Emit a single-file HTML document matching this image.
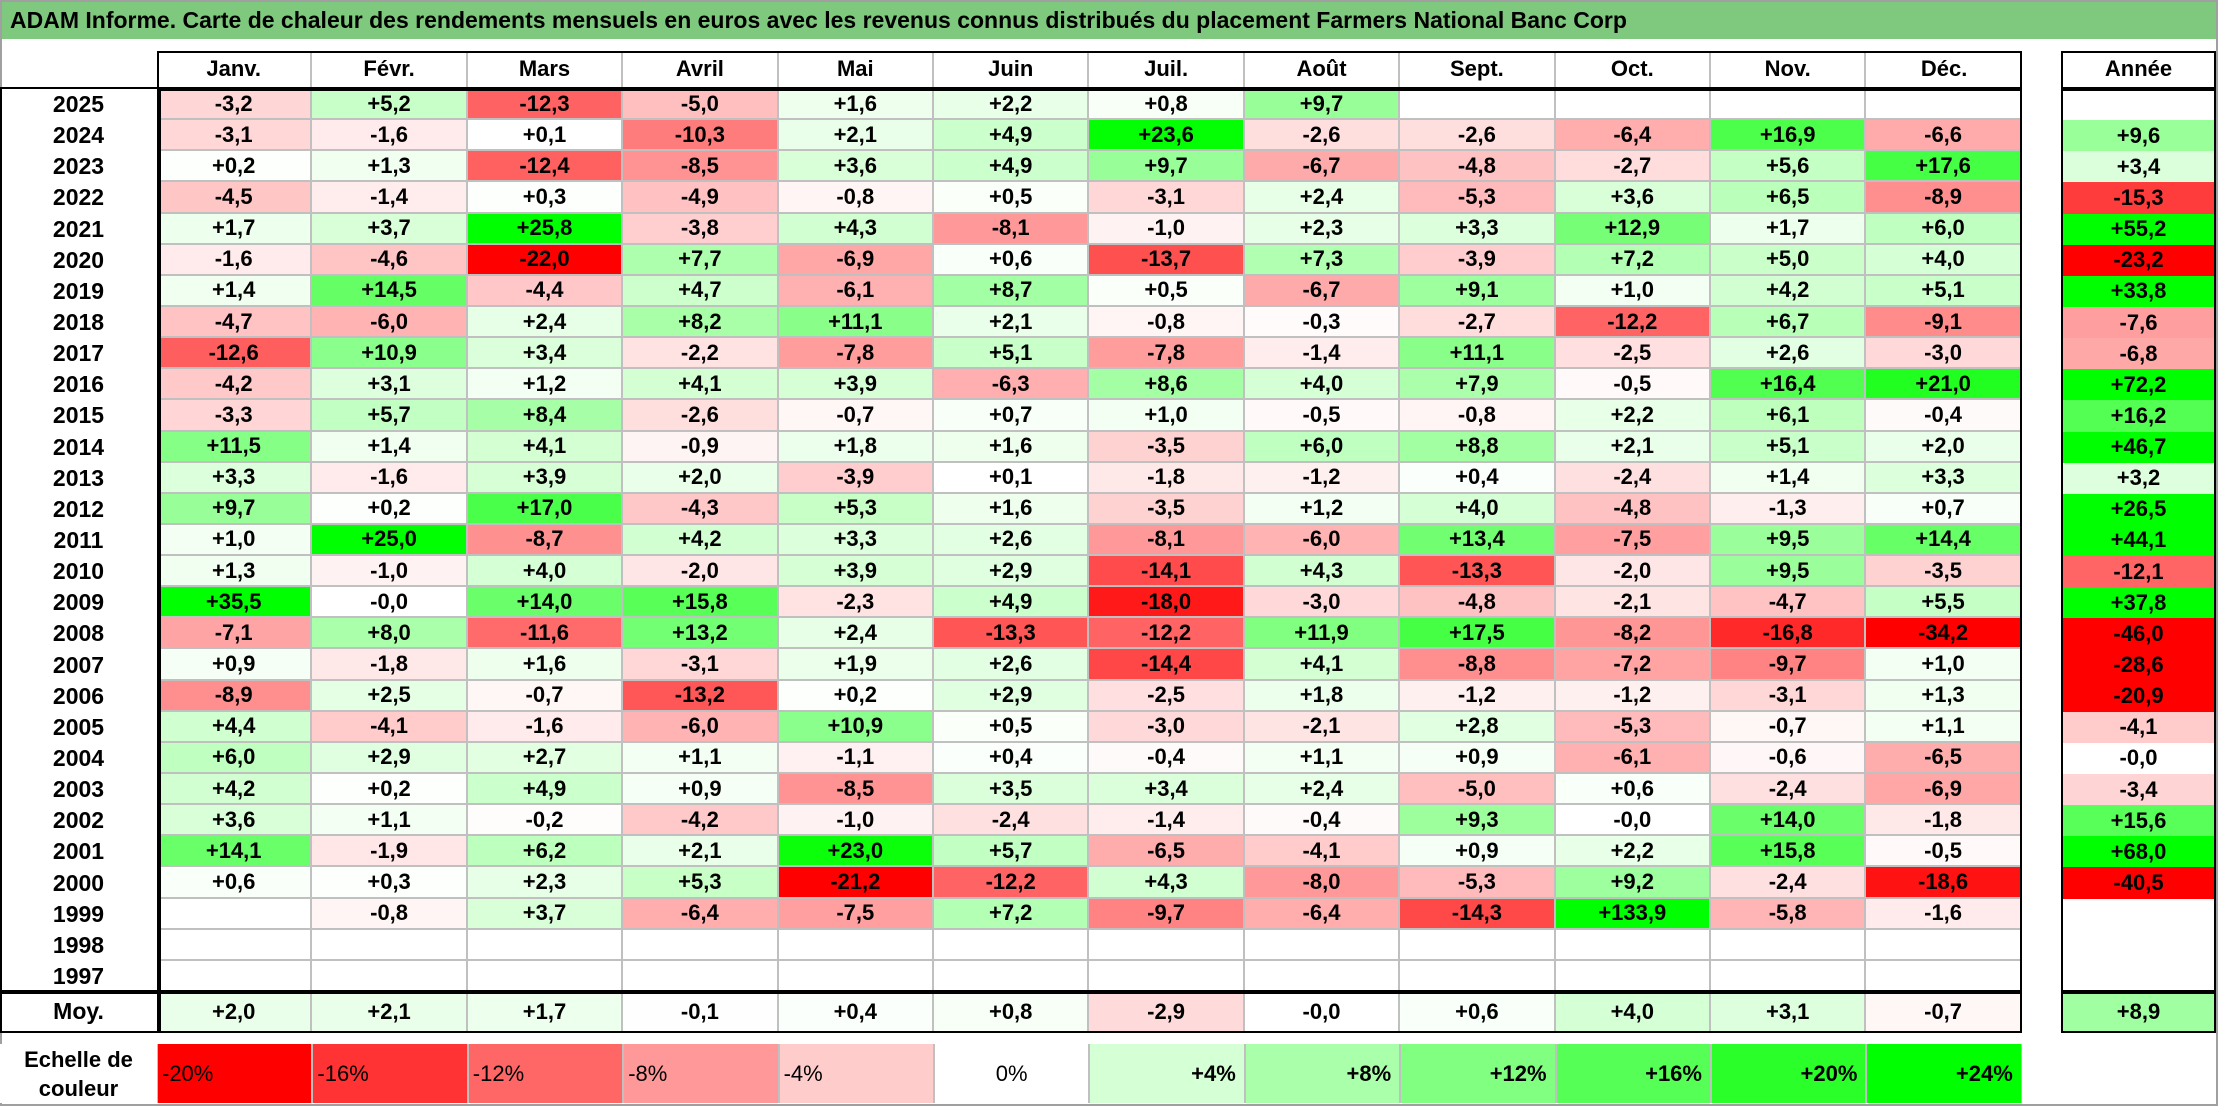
<!DOCTYPE html>
<html><head><meta charset="utf-8"><style>
body{margin:0;width:2218px;height:1106px;background:#fff;position:relative;overflow:hidden;font-family:"Liberation Sans",Arial,sans-serif;}
.a{position:absolute;box-sizing:border-box;}
.c{display:flex;align-items:center;justify-content:center;font-weight:bold;font-size:22px;color:#000;border-right:2px solid #c0c0c0;border-bottom:2px solid #c0c0c0;}
.bx{position:absolute;box-sizing:border-box;border:2px solid #000;pointer-events:none;}
</style></head><body>
<div class="a" style="left:0;top:0;width:2218px;height:1106px;border:2px solid #a0a0a0;"></div>
<div class="a" style="left:2px;top:2px;width:2214px;height:37px;background:#7fc97f;font-weight:bold;font-size:23px;line-height:37px;padding-left:8px;">ADAM Informe. Carte de chaleur des rendements mensuels en euros avec les revenus connus distribués du placement Farmers National Banc Corp</div>
<div id="g"></div>
<script>
const months=["Janv.","Févr.","Mars","Avril","Mai","Juin","Juil.","Août","Sept.","Oct.","Nov.","Déc."];
const years=[2025,2024,2023,2022,2021,2020,2019,2018,2017,2016,2015,2014,2013,2012,2011,2010,2009,2008,2007,2006,2005,2004,2003,2002,2001,2000,1999,1998,1997];
const N=null;
const monthly=[
[-3.2,5.2,-12.3,-5.0,1.6,2.2,0.8,9.7,N,N,N,N],
[-3.1,-1.6,0.1,-10.3,2.1,4.9,23.6,-2.6,-2.6,-6.4,16.9,-6.6],
[0.2,1.3,-12.4,-8.5,3.6,4.9,9.7,-6.7,-4.8,-2.7,5.6,17.6],
[-4.5,-1.4,0.3,-4.9,-0.8,0.5,-3.1,2.4,-5.3,3.6,6.5,-8.9],
[1.7,3.7,25.8,-3.8,4.3,-8.1,-1.0,2.3,3.3,12.9,1.7,6.0],
[-1.6,-4.6,-22.0,7.7,-6.9,0.6,-13.7,7.3,-3.9,7.2,5.0,4.0],
[1.4,14.5,-4.4,4.7,-6.1,8.7,0.5,-6.7,9.1,1.0,4.2,5.1],
[-4.7,-6.0,2.4,8.2,11.1,2.1,-0.8,-0.3,-2.7,-12.2,6.7,-9.1],
[-12.6,10.9,3.4,-2.2,-7.8,5.1,-7.8,-1.4,11.1,-2.5,2.6,-3.0],
[-4.2,3.1,1.2,4.1,3.9,-6.3,8.6,4.0,7.9,-0.5,16.4,21.0],
[-3.3,5.7,8.4,-2.6,-0.7,0.7,1.0,-0.5,-0.8,2.2,6.1,-0.4],
[11.5,1.4,4.1,-0.9,1.8,1.6,-3.5,6.0,8.8,2.1,5.1,2.0],
[3.3,-1.6,3.9,2.0,-3.9,0.1,-1.8,-1.2,0.4,-2.4,1.4,3.3],
[9.7,0.2,17.0,-4.3,5.3,1.6,-3.5,1.2,4.0,-4.8,-1.3,0.7],
[1.0,25.0,-8.7,4.2,3.3,2.6,-8.1,-6.0,13.4,-7.5,9.5,14.4],
[1.3,-1.0,4.0,-2.0,3.9,2.9,-14.1,4.3,-13.3,-2.0,9.5,-3.5],
[35.5,-0,14.0,15.8,-2.3,4.9,-18.0,-3.0,-4.8,-2.1,-4.7,5.5],
[-7.1,8.0,-11.6,13.2,2.4,-13.3,-12.2,11.9,17.5,-8.2,-16.8,-34.2],
[0.9,-1.8,1.6,-3.1,1.9,2.6,-14.4,4.1,-8.8,-7.2,-9.7,1.0],
[-8.9,2.5,-0.7,-13.2,0.2,2.9,-2.5,1.8,-1.2,-1.2,-3.1,1.3],
[4.4,-4.1,-1.6,-6.0,10.9,0.5,-3.0,-2.1,2.8,-5.3,-0.7,1.1],
[6.0,2.9,2.7,1.1,-1.1,0.4,-0.4,1.1,0.9,-6.1,-0.6,-6.5],
[4.2,0.2,4.9,0.9,-8.5,3.5,3.4,2.4,-5.0,0.6,-2.4,-6.9],
[3.6,1.1,-0.2,-4.2,-1.0,-2.4,-1.4,-0.4,9.3,-0,14.0,-1.8],
[14.1,-1.9,6.2,2.1,23.0,5.7,-6.5,-4.1,0.9,2.2,15.8,-0.5],
[0.6,0.3,2.3,5.3,-21.2,-12.2,4.3,-8.0,-5.3,9.2,-2.4,-18.6],
[N,-0.8,3.7,-6.4,-7.5,7.2,-9.7,-6.4,-14.3,133.9,-5.8,-1.6],
[N,N,N,N,N,N,N,N,N,N,N,N],
[N,N,N,N,N,N,N,N,N,N,N,N]];
const annual=[N,9.6,3.4,-15.3,55.2,-23.2,33.8,-7.6,-6.8,72.2,16.2,46.7,3.2,26.5,44.1,-12.1,37.8,-46.0,-28.6,-20.9,-4.1,-0,-3.4,15.6,68.0,-40.5,N,N,N];
const averages=[2.0,2.1,1.7,-0.1,0.4,0.8,-2.9,-0,0.6,4.0,3.1,-0.7];
const averageYear=8.9;
const scaleValues=[-20,-16,-12,-8,-4,0,4,8,12,16,20,24];

const X0=157,CW=155.4,Y0=89,RH=(992-89)/29,AX=2061,AW=155;
const g=document.getElementById('g');
function colX(i){return X0+i*CW;}
function rowY(r){return Y0+r*RH;}
function color(v){
  if(v===null||v===0)return '#ffffff';
  if(v<0){const t=Math.min(-v/20,1);const c=Math.round(255*(1-t));return `rgb(255,${c},${c})`;}
  const t=Math.min(v/24,1);const c=Math.round(255*(1-t));return `rgb(${c},255,${c})`;
}
function fmt(v){
  if(v===null)return '';
  const s=Math.abs(v).toFixed(1).replace('.',',');
  const neg=v<0||Object.is(v,-0);
  return (neg?'-':'+')+s;
}
function box(x,y,w,h,name){
  const d=document.createElement('div');d.className='bx';
  
  
  d.style.cssText+=`left:${x}px;top:${y}px;width:${w}px;height:${h}px;`;
  g.appendChild(d);
}
function cell(x,y,w,h,txt,bg,name,extra){
  const d=document.createElement('div');d.className='a c';
  
  
  d.style.cssText+=`left:${x}px;top:${y}px;width:${w}px;height:${h}px;background:${bg};`+(extra||'');
  d.textContent=txt;g.appendChild(d);return d;
}
months.forEach((m,i)=>{
  cell(colX(i),51,CW,38,m,'#fff','month-header',i<11?'':'border-right:none;');
});
cell(AX,51,AW,38,'Année','#fff','year-total-header','border-right:none;');
years.forEach((y,r)=>{
  cell(0,rowY(r),X0,RH,String(y),'#fff','year-label','border:none;font-size:23px;');
  monthly[r].forEach((v,i)=>{
    cell(colX(i),rowY(r),CW,RH,fmt(v),color(v),'cell-'+y+'-'+(i+1));
  });
  cell(AX,rowY(r),AW,RH,fmt(annual[r]),color(annual[r]),'annual-'+y,'border:none;');
});
cell(0,992,X0,39,'Moy.','#fff','average-label','border:none;font-size:23px;');
averages.forEach((v,i)=>{cell(colX(i),992,CW,39,fmt(v),color(v),'average-'+months[i],'border-bottom:none;');});
cell(AX,992,AW,39,fmt(averageYear),color(averageYear),'average-year','border:none;');
cell(0,1044,X0,59,'','#fff','scale-label','border:none;font-size:22px;line-height:29px;text-align:center;').innerHTML='Echelle de<br>couleur';
scaleValues.forEach((v,i)=>{
  const t=(v>0?'+':'')+v+'%';
  const al=v<0?'justify-content:flex-start;padding-left:4px;font-weight:normal;':(v>0?'justify-content:flex-end;padding-right:8px;':'font-weight:normal;');
  cell(colX(i),1044,CW,59,t,color(v),'scale-swatch','border-left:1px solid #c0c0c0;border-right:1px solid #c0c0c0;border-bottom:none;font-size:22px;'+al);
});
box(X0,51,2022-X0,40,'header-box');
box(0,87,2022,992-87+2,'body-box');
box(X0,87,2,992-87,'label-separator');
box(0,990,2022,43,'average-box');
box(X0,990,2,41,'average-separator');
box(AX,51,AW,40,'annual-header-box');
box(AX,87,AW,992-87+2,'annual-body-box');
box(AX,990,AW,43,'annual-average-box');
</script>
</body></html>
